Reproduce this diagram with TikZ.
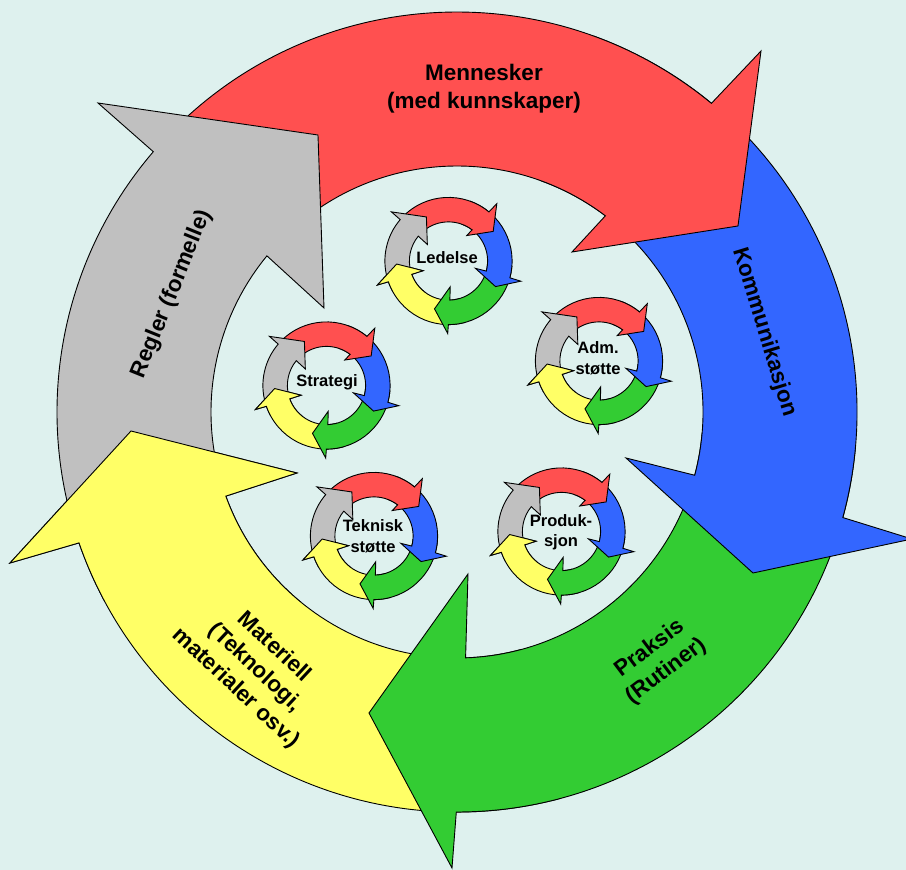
\documentclass[tikz,border=0pt]{standalone}
\usepackage{fontspec}
\setmainfont{Liberation Sans}

\definecolor{bgcyan}{RGB}{222,241,238}
\definecolor{arrred}{RGB}{255,80,80}
\definecolor{arrblue}{RGB}{51,102,255}
\definecolor{arrgreen}{RGB}{51,204,51}
\definecolor{arryellow}{RGB}{255,255,102}
\definecolor{arrgray}{RGB}{192,192,192}

\newcommand{\ringout}{400}
\newcommand{\ringin}{246}
% colour, tail angle, outer notch angle, inner notch angle, outer barb, tip, inner barb
\newcommand{\ringarrow}[7]{%
  \filldraw[ringpiece, fill=#1] (#2:\ringout) arc[start angle=#2, end angle=#3, radius=\ringout]
    -- #5 -- #6 -- #7 -- (#4:\ringin) arc[start angle=#4, end angle=#2, radius=\ringin] -- cycle;}
\newcommand{\yellowarrow}{\ringarrow{arryellow}{-75}{-160.9}{-160}{(-447,-151)}{(-326,-19)}{(-160,-61)}}

\tikzset{
  ringpiece/.style={draw=black, line width=0.9pt, line join=miter},
  biglabel/.style={font=\fontsize{22.5}{28}\selectfont\bfseries, align=center, inner sep=0pt},
  smalllabel/.style={font=\fontsize{16.5}{20.5}\selectfont\bfseries, align=center, inner sep=0pt},
  cyclering/.pic={
    \yellowarrow
    \ringarrow{arrgreen}{-5}{-90.1}{-88}{(-5,-456)}{(-88,-301)}{(11,-162)}
    \ringarrow{arrblue}{70}{-15.3}{-14.9}{(455,-127)}{(296,-161)}{(169,-46)}
    \ringarrow{arrred}{136}{50.5}{52.9}{(304,361)}{(281,186)}{(115,160)}
    \ringarrow{arrgray}{196}{139.4}{140.6}{(-359,309)}{(-139,277)}{(-133,104)}
    \begin{scope}
      \clip (-470,40) rectangle (-140,-190);
      \yellowarrow
    \end{scope}
  }
}

\begin{document}
\begin{tikzpicture}[x=1pt,y=1pt]
  \useasboundingbox (-457,412) rectangle (449,-458);
  \clip (-457,412) rectangle (449,-458);
  \fill[bgcyan] (-457,412) rectangle (449,-458);

  \pic at (0,0) {cyclering};

  \node[biglabel] (menn) at (27,323) {Mennesker\\(med kunnskaper)};
  \node[biglabel, rotate=-73] (komm) at (307,80) {Kommunikasjon};
  \node[biglabel, rotate=37] (praks) at (201,-248) {Praksis\\(Rutiner)};
  \node[biglabel, rotate=-43] (mater) at (-202,-256) {Materiell\\(Teknologi,\\materialer osv.)};
  \node[biglabel, rotate=68] (regl) at (-285,118) {Regler (formelle)};

  \pic[scale=0.159] at (-8.5,151) {cyclering};
  \pic[scale=0.159] at (-130.5,26.5) {cyclering};
  \pic[scale=0.159] at (142,51) {cyclering};
  \pic[scale=0.159] at (104.5,-119.5) {cyclering};
  \pic[scale=0.159] at (-83,-124) {cyclering};

  \node[smalllabel] (led) at (-10,154) {Ledelse};
  \node[smalllabel] (strat) at (-130,30) {Strategi};
  \node[smalllabel] (adm) at (141,54) {Adm.\\støtte};
  \node[smalllabel] (prod) at (104,-120) {Produk-\\sjon};
  \node[smalllabel] (tekn) at (-84,-124) {Teknisk\\støtte};
\end{tikzpicture}
\end{document}
